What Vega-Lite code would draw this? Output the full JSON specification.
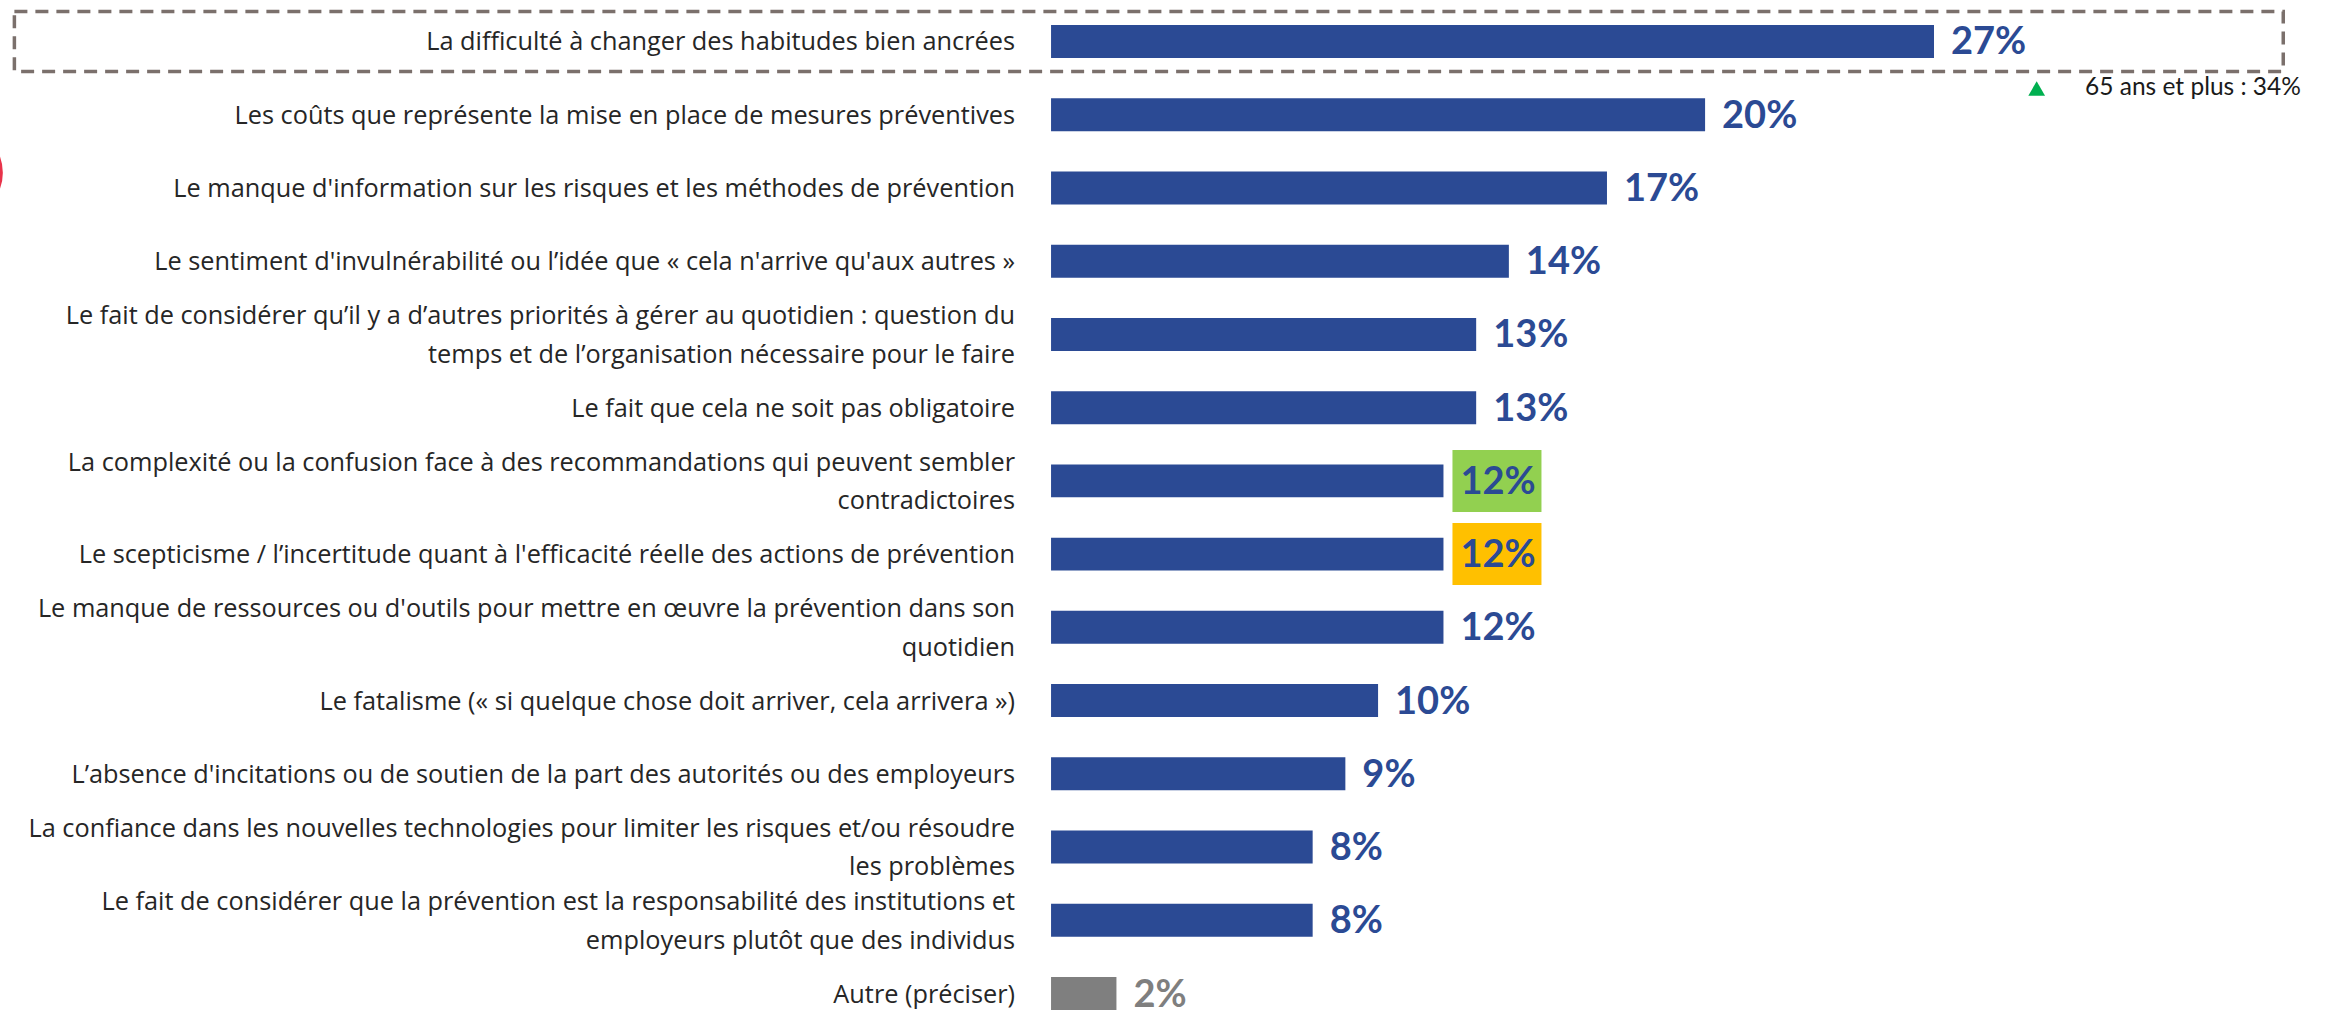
{
  "$schema": "https://vega.github.io/schema/vega-lite/v6.json",
  "width": 2331,
  "height": 1012,
  "autosize": {"type": "none"},
  "padding": 0,
  "background": "white",
  "config": {"view": {"stroke": null}},
  "data": {
    "values": [
      {"rank": 1, "item": "La difficulté à changer des habitudes bien ancrées", "value": 27, "group": "item", "note": "65 ans et plus : 34%"},
      {"rank": 2, "item": "Les coûts que représente la mise en place de mesures préventives", "value": 20, "group": "item", "badge": "rouge"},
      {"rank": 3, "item": "Le manque d'information sur les risques et les méthodes de prévention", "value": 17, "group": "item"},
      {"rank": 4, "item": "Le sentiment d'invulnérabilité ou l’idée que « cela n'arrive qu'aux autres »", "value": 14, "group": "item"},
      {"rank": 5, "item": "Le fait de considérer qu’il y a d’autres priorités à gérer au quotidien : question du\ntemps et de l’organisation nécessaire pour le faire", "value": 13, "group": "item"},
      {"rank": 6, "item": "Le fait que cela ne soit pas obligatoire", "value": 13, "group": "item"},
      {"rank": 7, "item": "La complexité ou la confusion face à des recommandations qui peuvent sembler\ncontradictoires", "value": 12, "group": "item", "tendance": "hausse"},
      {"rank": 8, "item": "Le scepticisme / l’incertitude quant à l'efficacité réelle des actions de prévention", "value": 12, "group": "item", "tendance": "baisse"},
      {"rank": 9, "item": "Le manque de ressources ou d'outils pour mettre en œuvre la prévention dans son\nquotidien", "value": 12, "group": "item"},
      {"rank": 10, "item": "Le fatalisme (« si quelque chose doit arriver, cela arrivera »)", "value": 10, "group": "item"},
      {"rank": 11, "item": "L’absence d'incitations ou de soutien de la part des autorités ou des employeurs", "value": 9, "group": "item"},
      {"rank": 12, "item": "La confiance dans les nouvelles technologies pour limiter les risques et/ou résoudre\nles problèmes", "value": 8, "group": "item"},
      {"rank": 13, "item": "Le fait de considérer que la prévention est la responsabilité des institutions et\nemployeurs plutôt que des individus", "value": 8, "group": "item"},
      {"rank": 14, "item": "Autre (préciser)", "value": 2, "group": "autre"}
    ]
  },
  "transform": [{"calculate": "datum.value + '%'", "as": "pct"}],
  "encoding": {
    "y": {
      "field": "item",
      "type": "nominal",
      "sort": {"field": "rank", "order": "ascending"},
      "scale": {"range": [25, 1010], "paddingInner": 0.55, "paddingOuter": 0},
      "axis": null
    }
  },
  "layer": [
    {
      "transform": [{"filter": "datum.rank === 1"}],
      "mark": {"type": "bar", "height": 60, "fill": null, "fillOpacity": 0, "stroke": "#7B706C", "strokeWidth": 3.5, "strokeDash": [13, 8]},
      "encoding": {
        "x": {"datum": -31.7, "type": "quantitative", "scale": {"domain": [-32.14, 39.14], "range": [0, 2331], "nice": false, "zero": false}, "axis": null},
        "x2": {"datum": 37.68}
      }
    },
    {
      "transform": [{"filter": "datum.badge != null"}],
      "mark": {"type": "point", "shape": "circle", "filled": true, "size": 8836, "color": "#E8334A", "opacity": 1, "yOffset": 58},
      "encoding": {
        "x": {"datum": -33.49, "type": "quantitative"}
      }
    },
    {
      "mark": {"type": "bar"},
      "encoding": {
        "x": {"field": "value", "type": "quantitative"},
        "x2": {"datum": 0},
        "color": {"field": "group", "type": "nominal", "scale": {"domain": ["item", "autre"], "range": ["#2B4A94", "#7F7F7F"]}, "legend": null}
      }
    },
    {
      "transform": [{"filter": "datum.tendance != null"}],
      "mark": {"type": "bar", "height": 62, "xOffset": 9, "x2Offset": 98},
      "encoding": {
        "x": {"field": "value", "type": "quantitative"},
        "x2": {"field": "value"},
        "fill": {"field": "tendance", "type": "nominal", "scale": {"domain": ["hausse", "baisse"], "range": ["#92D050", "#FFC000"]}, "legend": null}
      }
    },
    {
      "mark": {"type": "text", "align": "left", "baseline": "middle", "dx": 17, "dy": 2, "font": "Lato", "fontWeight": "bold", "fontSize": 38},
      "encoding": {
        "x": {"field": "value", "type": "quantitative"},
        "text": {"field": "pct"},
        "color": {"field": "group", "type": "nominal", "scale": {"domain": ["item", "autre"], "range": ["#2E4B9B", "#808080"]}, "legend": null}
      }
    },
    {
      "transform": [{"filter": "indexof(datum.item, '\\n') < 0"}],
      "mark": {"type": "text", "align": "right", "baseline": "middle", "dx": -36, "dy": 1, "font": "Open Sans", "fontSize": 25.3, "color": "#262626"},
      "encoding": {
        "x": {"datum": 0, "type": "quantitative"},
        "text": {"field": "item"}
      }
    },
    {
      "transform": [{"filter": "indexof(datum.item, '\\n') >= 0"}],
      "mark": {"type": "text", "align": "right", "baseline": "middle", "dx": -36, "dy": -18.3, "font": "Open Sans", "fontSize": 25.3, "lineBreak": "\n", "lineHeight": 38.6, "color": "#262626"},
      "encoding": {
        "x": {"datum": 0, "type": "quantitative"},
        "text": {"field": "item"}
      }
    },
    {
      "transform": [{"filter": "datum.note != null"}],
      "mark": {"type": "point", "shape": "triangle-up", "filled": true, "size": 280, "color": "#00B050", "yOffset": 47, "opacity": 1},
      "encoding": {
        "x": {"datum": 30.14, "type": "quantitative"}
      }
    },
    {
      "transform": [{"filter": "datum.note != null"}],
      "mark": {"type": "text", "align": "left", "baseline": "middle", "dy": 47, "font": "Lato", "fontSize": 24.5, "color": "#1A1A1A"},
      "encoding": {
        "x": {"datum": 31.62, "type": "quantitative"},
        "text": {"field": "note"}
      }
    }
  ]
}
